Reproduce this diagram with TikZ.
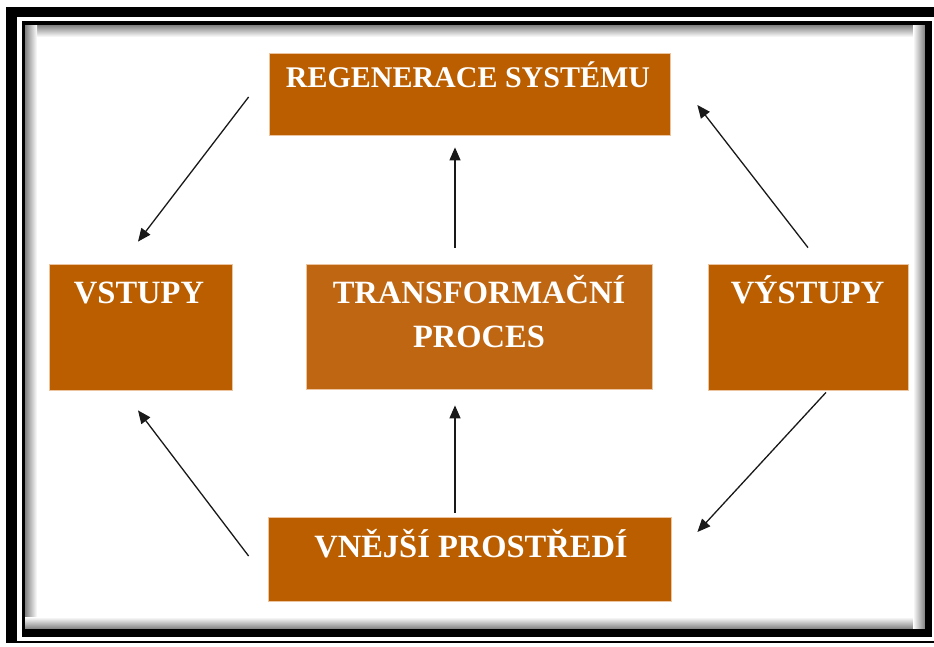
\documentclass[tikz,border=0pt]{standalone}
\usepackage{fontspec}
\setmainfont{Liberation Serif}
\usetikzlibrary{arrows.meta}
\definecolor{rust}{RGB}{186,94,0}
\definecolor{rustlight}{RGB}{191,102,18}
\definecolor{peach}{RGB}{236,196,160}
\definecolor{inkgray}{RGB}{25,25,25}

\begin{document}
\begin{tikzpicture}[x=1pt, y=-1pt, >={Triangle[length=13pt,width=11pt]},
    box/.style={rectangle, draw=peach, line width=0.8pt, fill=rust, inner sep=0pt},
    boxtext/.style={anchor=base, text=white, font=\bfseries\fontsize{32.5}{44}\selectfont, align=center},
    arrow/.style={->, line width=1.3pt, inkgray}]

    \useasboundingbox (0,0) rectangle (934,646);

    % Page frame with shadow
    \shade[top color=black!50, bottom color=white] (25,25) rectangle (925,37);
    \shade[left color=black!50, right color=white] (25,25) rectangle (37,629);
    \shade[bottom color=black!50, top color=white] (25,617) rectangle (925,629);
    \shade[right color=black!50, left color=white] (913,25) rectangle (925,629);
    \fill[white] (37,37) rectangle (913,617);
    \fill[black] (6,7) rectangle (934,17);
    \fill[black] (6,7) rectangle (17,641);
    \fill[black] (6,641) rectangle (934,643);
    \fill[black] (22,21) rectangle (932,25);
    \fill[black] (22,21) rectangle (25,637);
    \fill[black] (925,21) rectangle (932,637);
    \fill[black] (22,629) rectangle (932,637);

    % Boxes
    \node[box, minimum width=401pt, minimum height=82pt] (regen) at (469.5,94) {};
    \node[box, minimum width=183pt, minimum height=126pt] (vstupy) at (140.5,327) {};
    \node[box, fill=rustlight, minimum width=346pt, minimum height=125pt] (transf) at (479,326.5) {};
    \node[box, minimum width=200pt, minimum height=126pt] (vystupy) at (808,327) {};
    \node[box, minimum width=403pt, minimum height=84pt] (vnejsi) at (469.5,559) {};

    % Labels
    \node[boxtext, font=\bfseries\fontsize{30}{34}\selectfont] (regen text) at (468,87) {REGENERACE SYSTÉMU};
    \node[boxtext] (vstupy text) at (139,303) {VSTUPY};
    \node[boxtext] (transf text) at (479,347) {TRANSFORMAČNÍ\\PROCES};
    \node[boxtext] (vystupy text) at (807.5,303) {VÝSTUPY};
    \node[boxtext] (vnejsi text) at (471,557) {VNĚJŠÍ PROSTŘEDÍ};

    % Cycle arrows
    \draw[arrow] ([xshift=-20pt,yshift=-3pt]regen.west) -- ([xshift=-2.5pt,yshift=22pt]vstupy.north);
    \draw[arrow] ([xshift=-24pt,yshift=16pt]transf.north) -- ([xshift=-14.5pt,yshift=-12pt]regen.south);
    \draw[arrow] ([yshift=16pt]vystupy.north) -- ([xshift=27pt,yshift=-11pt]regen.east);
    \draw[arrow] ([xshift=-19pt,yshift=3pt]vnejsi.west) -- ([xshift=-2.5pt,yshift=-20pt]vstupy.south);
    \draw[arrow] ([xshift=-14.5pt,yshift=4pt]vnejsi.north) -- ([xshift=-24pt,yshift=-16pt]transf.south);
    \draw[arrow] ([xshift=18pt,yshift=-2pt]vystupy.south) -- ([xshift=26pt,yshift=27pt]vnejsi.east);

\end{tikzpicture}
\end{document}
